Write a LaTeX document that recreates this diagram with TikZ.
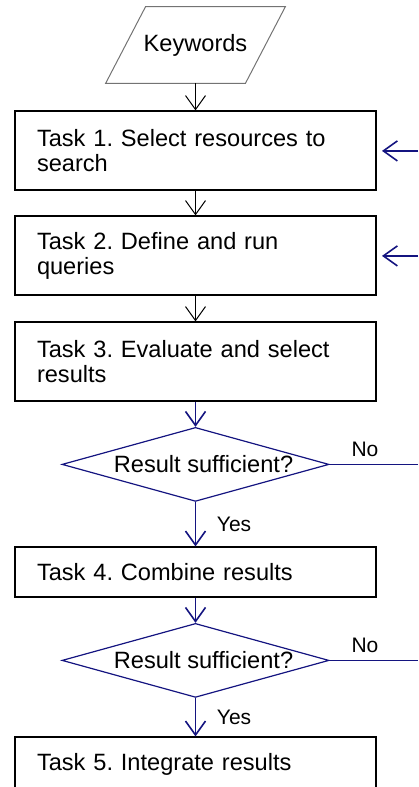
\documentclass[tikz,border=0pt]{standalone}
\usepackage{fontspec}
\setmainfont{Liberation Sans}
\frenchspacing
\usetikzlibrary{positioning, arrows.meta, shapes.geometric}
\definecolor{navy}{RGB}{20,20,128}
\tikzset{
  task/.style={draw, line width=1pt, minimum width=180.5pt, text width=158.5pt, inner xsep=11pt, minimum height=39.5pt, align=left, font=\fontsize{11.8}{12.5}\selectfont},
  input/.style={inner sep=0pt, minimum width=69.5pt, minimum height=38pt, font=\fontsize{11.8}{12.5}\selectfont},
  slant/.style={draw=black!55, line width=0.5pt},
  check/.style={draw=navy, line width=0.6pt, diamond, aspect=3.6, minimum width=133.5pt, minimum height=37pt, inner sep=0pt, font=\fontsize{11.8}{12.5}\selectfont},
  arr/.style={-{Straight Barb[length=7pt, width=10pt]}, line width=0.5pt},
  narr/.style={arr, draw=navy, line width=0.8pt},
  nline/.style={draw=navy, line width=0.9pt},
  lbl/.style={font=\fontsize{10.5}{12}\selectfont, text=black}
}
\begin{document}
\begin{tikzpicture}[x=0.5pt, y=-0.5pt, node distance=12pt]
\useasboundingbox (0,0) rectangle (418,787);
\node[input] (kw) at (195.5,45) {Keywords};
\draw[slant] ([xshift=10pt]kw.north west) -- ([xshift=10pt]kw.north east) -- ([xshift=-10pt]kw.south east) -- ([xshift=-10pt]kw.south west) -- cycle;
\node[task, below=13.5pt of kw] (t1) {Task 1. Select resources to\\search};
\node[task, below=of t1] (t2) {Task 2. Define and run\\queries};
\node[task, below=12.5pt of t2] (t3) {Task 3. Evaluate and select\\results};
\node[check, below=12.2pt of t3] (d1) {\hspace*{8pt}Result sufficient?};
\node[task, minimum height=25pt, below=22.2pt of d1] (t4) {Task 4. Combine results};
\node[check, below=12.2pt of t4] (d2) {\hspace*{8pt}Result sufficient?};
\node[task, minimum height=27pt, below=19.2pt of d2] (t5) {Task 5. Integrate results};
\coordinate (rim) at (418,0);
\coordinate (ret1) at (t1.east -| rim);
\coordinate (ret2) at (t2.east -| rim);
\coordinate (no1) at (d1.east -| rim);
\coordinate (no2) at (d2.east -| rim);
\draw[arr] (t1.north |- kw.south) -- (t1);
\draw[arr] (t1) -- (t2);
\draw[arr] (t2) -- (t3);
\draw[narr] (t3) -- (d1);
\draw[narr] (d1) -- node[lbl, right=7pt] {Yes} (t4);
\draw[narr] (t4) -- (d2);
\draw[narr] (d2) -- node[lbl, right=7pt] {Yes} (t5);
\draw[nline] (d1.east) -- node[lbl, above, pos=0.4] {No} (no1);
\draw[nline] (d2.east) -- node[lbl, above, pos=0.4] {No} (no2);
\draw[narr, shorten >=2.5pt] (ret1) -- (t1);
\draw[narr, shorten >=2.5pt] (ret2) -- (t2);
\end{tikzpicture}
\end{document}
